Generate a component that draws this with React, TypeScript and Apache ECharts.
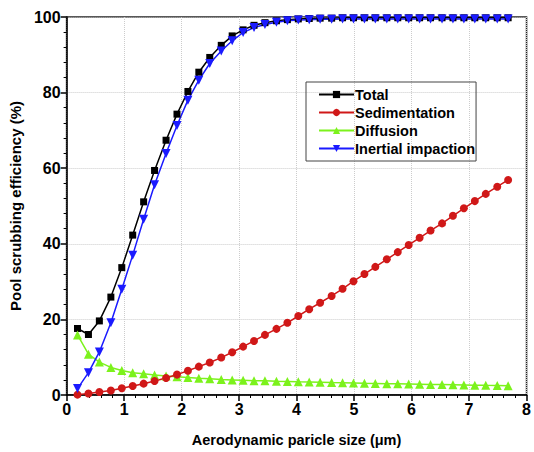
import React, { useEffect, useRef } from "react";
import * as echarts from "echarts";

const particleSize = [
  0.19, 0.38, 0.57, 0.77, 0.96, 1.15, 1.34, 1.53, 1.73, 1.92,
  2.11, 2.3, 2.49, 2.69, 2.88, 3.07, 3.26, 3.45, 3.65, 3.84,
  4.03, 4.22, 4.41, 4.61, 4.8, 4.99, 5.18, 5.37, 5.57, 5.76,
  5.95, 6.14, 6.33, 6.53, 6.72, 6.91, 7.1, 7.29, 7.49, 7.68,
];

const total = [
  17.6, 16.0, 19.6, 25.9, 33.7, 42.3, 51.1, 59.4, 67.4, 74.3,
  80.3, 85.4, 89.3, 92.5, 95.0, 96.6, 97.8, 98.5, 99.0, 99.3,
  99.5, 99.6, 99.7, 99.7, 99.8, 99.8, 99.8, 99.8, 99.8, 99.8,
  99.8, 99.8, 99.8, 99.8, 99.8, 99.8, 99.8, 99.8, 99.8, 99.8,
];

const sedimentation = [
  0.1, 0.4, 0.8, 1.2, 1.8, 2.4, 3.0, 3.7, 4.5, 5.4,
  6.4, 7.5, 8.6, 9.9, 11.3, 12.8, 14.3, 15.9, 17.5, 19.1,
  20.9, 22.7, 24.4, 26.2, 28.1, 30.1, 32.0, 33.9, 35.9, 37.8,
  39.7, 41.6, 43.5, 45.4, 47.4, 49.4, 51.3, 53.2, 55.1, 56.9,
];

const diffusion = [
  15.9, 10.8, 8.7, 7.3, 6.5, 5.9, 5.6, 5.3, 5.0, 4.8,
  4.6, 4.4, 4.3, 4.1, 4.0, 3.9, 3.8, 3.75, 3.65, 3.6,
  3.5, 3.45, 3.4, 3.3, 3.25, 3.2, 3.1, 3.05, 3.0, 2.95,
  2.9, 2.85, 2.8, 2.75, 2.7, 2.65, 2.6, 2.55, 2.5, 2.45,
];

const inertial = [
  1.7, 5.9, 11.4, 19.1, 28.0, 37.0, 46.5, 55.6, 63.9, 71.3,
  78.0, 83.3, 87.7, 91.0, 93.7, 95.9, 97.2, 98.0, 98.6, 99.0,
  99.2, 99.3, 99.4, 99.4, 99.5, 99.5, 99.5, 99.5, 99.5, 99.5,
  99.5, 99.5, 99.5, 99.5, 99.5, 99.5, 99.5, 99.5, 99.5, 99.5,
];

const seriesNames = ["Total", "Sedimentation", "Diffusion", "Inertial impaction"];
const xAxisTitle = "Aerodynamic paricle size (\u03bcm)";
const yAxisTitle = "Pool scrubbing efficiency (%)";

const FONT = "'Liberation Sans', Arial, sans-serif";

function pairs(ys: number[]) {
  return particleSize.map((x, i) => [x, ys[i]]);
}

export default function App() {
  const ref = useRef<HTMLDivElement>(null);
  useEffect(() => {
    document.body.style.margin = "0";
    const chart = echarts.init(ref.current!, null, { renderer: "svg" });
    const mk = (
      name: string,
      ys: number[],
      color: string,
      symbol: string,
      size: number,
      rotate = 0
    ) => ({
      name,
      type: "line",
      data: pairs(ys),
      symbol,
      symbolSize: size,
      symbolRotate: rotate,
      showAllSymbol: true,
      lineStyle: { color, width: 1.5 },
      itemStyle: { color, borderWidth: 0 },
      emphasis: { disabled: true },
    });
    chart.setOption({
      animation: false,
      backgroundColor: "#fff",
      textStyle: { fontFamily: FONT },
      grid: {
        left: 65,
        right: 2,
        top: 17,
        bottom: 56,
        show: true,
        borderColor: "#222",
        borderWidth: 1.5,
        backgroundColor: "transparent",
      },
      legend: {
        orient: "vertical",
        left: 306,
        top: 82,
        data: seriesNames,
        itemWidth: 35,
        itemHeight: 9,
        itemGap: 3,
        padding: [5, 1, 5, 12],
        borderColor: "#444",
        borderWidth: 1,
        textStyle: {
          fontFamily: FONT,
          fontWeight: "bold",
          fontSize: 14.5,
          color: "#000",
          padding: [0, 0, 0, -4],
        },
      },
      xAxis: {
        type: "value",
        min: 0,
        max: 8,
        interval: 1,
        name: xAxisTitle,
        nameLocation: "middle",
        nameGap: 37,
        nameTextStyle: { fontFamily: FONT, fontWeight: "bold", fontSize: 14.5, color: "#000" },
        axisLine: { show: true, lineStyle: { color: "#000", width: 1.5 } },
        axisTick: { show: true, inside: false, length: 6, lineStyle: { color: "#000", width: 1.5 } },
        minorTick: { show: true, splitNumber: 5, length: 3, lineStyle: { color: "#000", width: 1 } },
        axisLabel: { fontFamily: FONT, fontWeight: "bold", fontSize: 16, color: "#000", margin: 6 },
        splitLine: { show: true, lineStyle: { color: "#ccc", type: "dotted", width: 1 } },
      },
      yAxis: {
        type: "value",
        min: 0,
        max: 100,
        interval: 20,
        name: yAxisTitle,
        nameLocation: "middle",
        nameGap: 41,
        nameRotate: 90,
        nameTextStyle: { fontFamily: FONT, fontWeight: "bold", fontSize: 15, color: "#000" },
        axisLine: { show: true, lineStyle: { color: "#000", width: 1.5 } },
        axisTick: { show: true, inside: false, length: 6, lineStyle: { color: "#000", width: 1.5 } },
        minorTick: { show: true, splitNumber: 5, length: 3, lineStyle: { color: "#000", width: 1 } },
        axisLabel: { fontFamily: FONT, fontWeight: "bold", fontSize: 16, color: "#000", margin: 6 },
        splitLine: { show: true, lineStyle: { color: "#ccc", type: "dotted", width: 1 } },
      },
      series: [
        mk(seriesNames[0], total, "#000000", "rect", 7),
        mk(seriesNames[2], diffusion, "#7cf21c", "triangle", 9),
        mk(seriesNames[1], sedimentation, "#d01818", "circle", 8),
        mk(seriesNames[3], inertial, "#1a1aff", "triangle", 9, 180),
      ],
    });
    return () => chart.dispose();
  }, []);
  return (
    <div
      ref={ref}
      style={{ position: "fixed", left: 0, top: 0, width: 534, height: 452 }}
    />
  );
}
